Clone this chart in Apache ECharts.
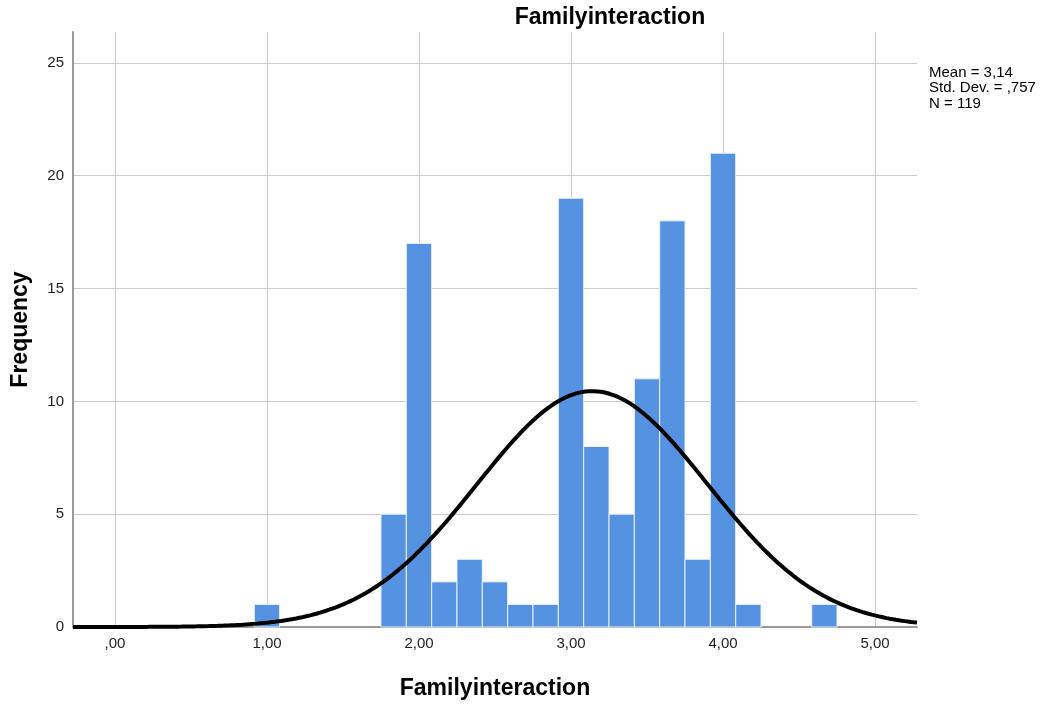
<!DOCTYPE html>
<html>
<head>
<meta charset="utf-8">
<style>
  html, body { margin: 0; padding: 0; background: #fff; }
  #chart { width: 1049px; height: 704px; }
</style>
<script src="https://cdn.jsdelivr.net/npm/echarts@6/dist/echarts.min.js"></script>
</head>
<body>
<div id="chart"></div>
<script>
// Histogram bins: centres (score units) and counts
const binCenters = [1.0, 1.8333, 2.0, 2.1667, 2.3333, 2.5, 2.6667, 2.8333, 3.0, 3.1667, 3.3333, 3.5, 3.6667, 3.8333, 4.0, 4.1667, 4.6667];
const binCounts  = [1,   5,      17,  2,      3,      2,   1,      1,      19,  8,      5,      11,  18,     3,      21,  1,      1];
const binWidth = 1 / 6;

// Summary statistics shown in the side note
const mean = 3.14;
const stdDev = 0.757;
const n = 119;

// Axis ticks
const xTicks = [0, 1, 2, 3, 4, 5];
const xTickLabels = [',00', '1,00', '2,00', '3,00', '4,00', '5,00'];
const yTicks = [0, 5, 10, 15, 20, 25];

const xMin = -0.276, xMax = 5.276;
const yMax = 26.37;

// Fitted normal curve scaled to counts per bin
const curve = [];
for (let i = 0; i <= 560; i++) {
  const x = xMin + (xMax - xMin) * i / 560;
  const z = (x - mean) / stdDev;
  curve.push([x, n * binWidth * Math.exp(-0.5 * z * z) / (stdDev * Math.sqrt(2 * Math.PI))]);
}

const bars = binCenters.map((c, i) => [c - binWidth / 2, c + binWidth / 2, binCounts[i]]);

const chart = echarts.init(document.getElementById('chart'));
const font = '"Liberation Sans", Arial, sans-serif';

chart.setOption({
  animation: false,
  backgroundColor: '#ffffff',
  title: {
    text: 'Familyinteraction',
    left: 605, top: 1, textAlign: 'center',
    textStyle: { fontFamily: font, fontWeight: 'bold', fontSize: 23, color: '#000' }
  },
  grid: { left: 73, right: 132, top: 32, bottom: 77, outerBoundsMode: 'none', containLabel: false },
  xAxis: {
    type: 'value', min: xMin, max: xMax,
    name: 'Familyinteraction', nameLocation: 'middle', nameGap: 50,
    nameTextStyle: { fontFamily: font, fontWeight: 'bold', fontSize: 23, color: '#000' },
    axisLine: { show: true, onZero: false, lineStyle: { color: '#9a9a9a', width: 2 } },
    axisTick: { show: false, customValues: xTicks },
    axisLabel: {
      customValues: xTicks,
      formatter: v => xTickLabels[xTicks.indexOf(Math.round(v))] || '',
      fontFamily: font, fontSize: 15, color: '#222', margin: 9
    },
    splitLine: { show: true, lineStyle: { color: '#cccccc', width: 1 } }
  },
  yAxis: {
    type: 'value', min: 0, max: yMax,
    name: 'Frequency', nameLocation: 'middle', nameGap: 41, nameRotate: 90,
    nameTextStyle: { fontFamily: font, fontWeight: 'bold', fontSize: 23, color: '#000' },
    axisLine: { show: true, onZero: false, lineStyle: { color: '#9a9a9a', width: 2 } },
    axisTick: { show: false, customValues: yTicks },
    axisLabel: { customValues: yTicks, fontFamily: font, fontSize: 15, color: '#222', margin: 9 },
    splitLine: { show: true, lineStyle: { color: '#cccccc', width: 1 } }
  },
  graphic: [{
    type: 'text', left: 929, top: 65,
    style: {
      text: 'Mean = 3,14\nStd. Dev. = ,757\nN = 119',
      font: '15px ' + font, fill: '#000', lineHeight: 15.5
    }
  }],
  series: [
    {
      type: 'custom',
      data: bars,
      renderItem: function (params, api) {
        const p0 = api.coord([api.value(0), api.value(2)]);
        const p1 = api.coord([api.value(1), 0]);
        return {
          type: 'rect',
          shape: { x: p0[0], y: p0[1], width: p1[0] - p0[0], height: p1[1] - p0[1] },
          style: { fill: '#5593e2', stroke: '#eaf2fc', lineWidth: 1 }
        };
      },
      z: 2
    },
    {
      type: 'line',
      data: curve,
      showSymbol: false,
      smooth: false,
      lineStyle: { color: '#000', width: 4 },
      z: 3
    }
  ]
});
</script>
</body>
</html>
